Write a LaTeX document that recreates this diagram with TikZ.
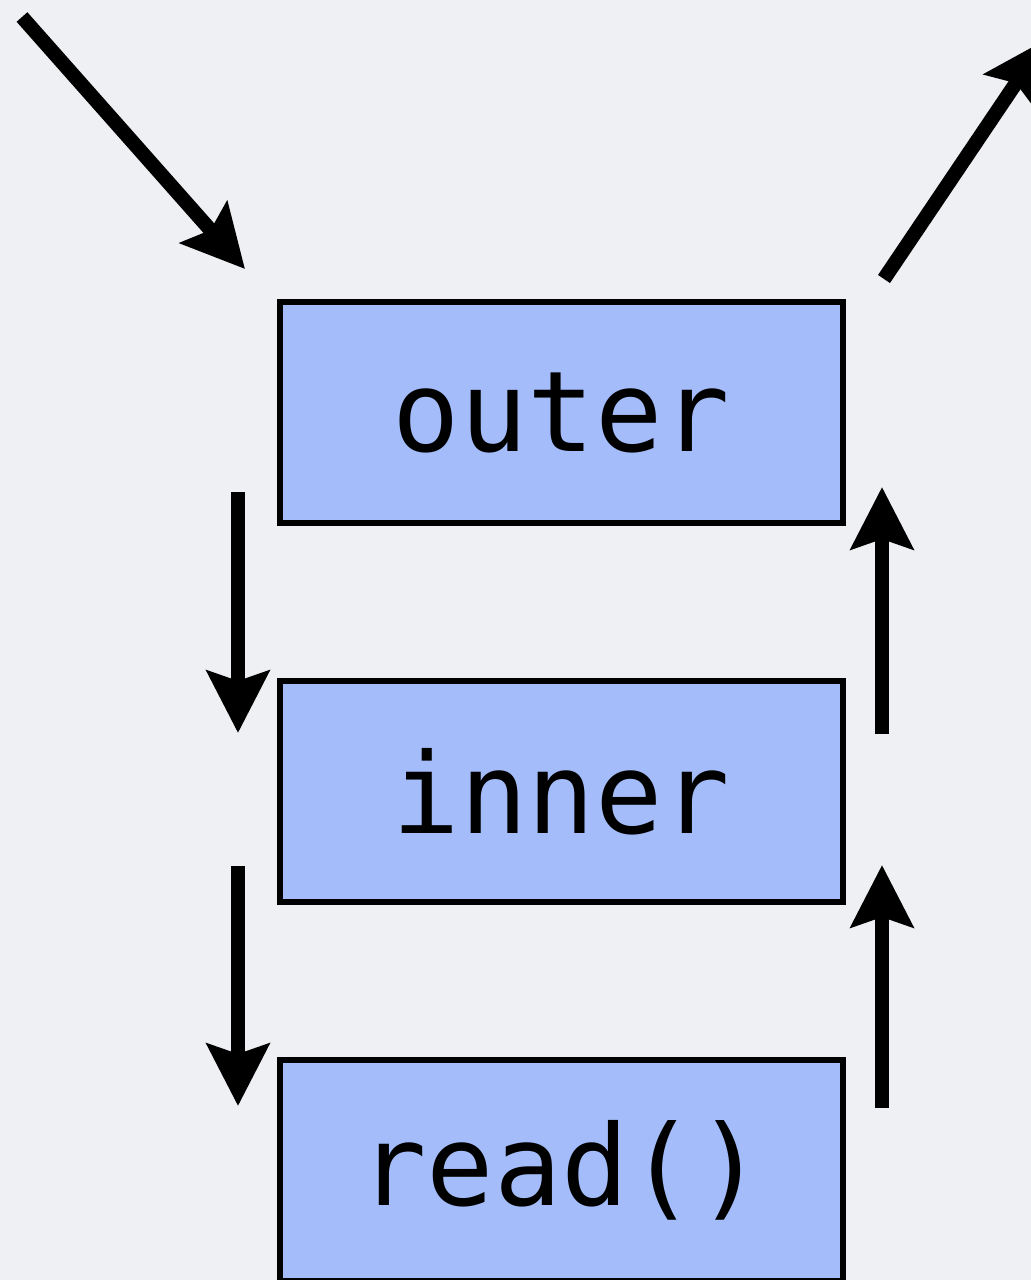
\documentclass[tikz,border=0pt]{standalone}
\usepackage{fontspec}
\setmonofont{DejaVu Sans Mono}
\usetikzlibrary{arrows.meta}
\definecolor{bgcol}{RGB}{238,240,243}
\definecolor{boxcol}{RGB}{164,189,250}
\tikzset{
  blk/.style={draw=black, line width=2.6pt, fill=boxcol, minimum width=281.5pt, minimum height=110.5pt, inner sep=0pt,
    font=\ttfamily\fontsize{56}{62}\selectfont},
  flow/.style={line width=7.2pt, -{Stealth[length=31pt,width=31pt,inset=5pt]}}
}
\begin{document}
\begin{tikzpicture}[x=0.5pt,y=-0.5pt]
\useasboundingbox (0,0) rectangle (1031,1280);
\clip (0,0) rectangle (1031,1280);
\fill[bgcol] (0,0) rectangle (1031,1280);
\node[blk] (outer) at (561.5,412.5) {\raisebox{-2pt}{outer}};
\node[blk] (inner) at (561.5,791.5) {\raisebox{-1pt}{inner}};
\node[blk] (read) at (561.5,1170.5) {read()};
\coordinate (inS) at (22,17);
\coordinate (inE) at (245,269);
\coordinate (outS) at (884,279);
\coordinate (outE) at (1045,40);
\coordinate (d1s) at (238,492);
\coordinate (d1e) at (238,733);
\coordinate (d2s) at (238,866);
\coordinate (d2e) at (238,1106);
\coordinate (u1s) at (882,734);
\coordinate (u1e) at (882,487);
\coordinate (u2s) at (882,1108);
\coordinate (u2e) at (882,865);
\draw[flow] (inS) -- (inE);
\draw[flow] (outS) -- (outE);
\draw[flow] (d1s) -- (d1e);
\draw[flow] (d2s) -- (d2e);
\draw[flow] (u1s) -- (u1e);
\draw[flow] (u2s) -- (u2e);
\end{tikzpicture}
\end{document}
